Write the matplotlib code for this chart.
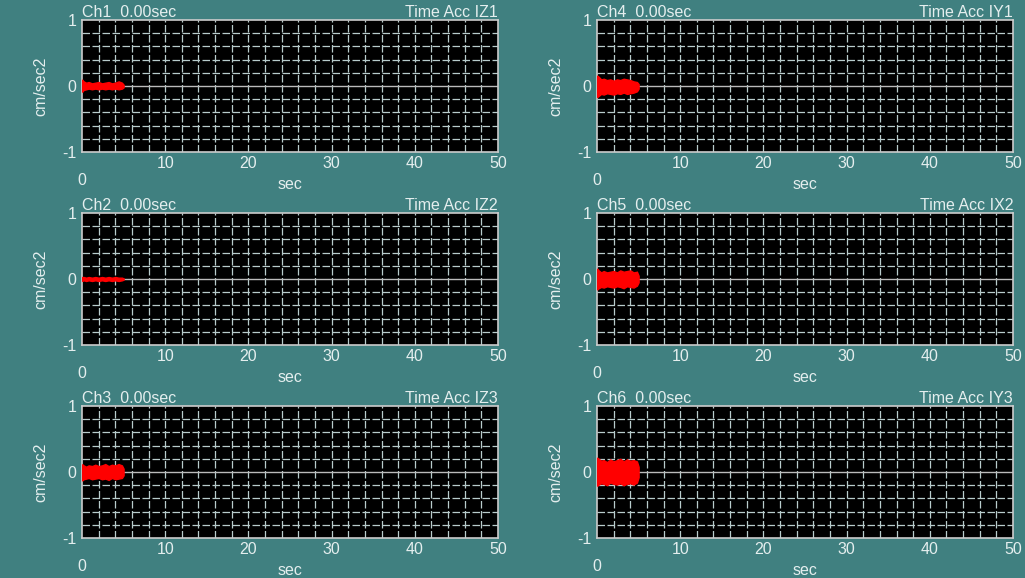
import matplotlib.pyplot as plt
import numpy as np

plt.rcParams['font.family'] = ['Liberation Sans', 'DejaVu Sans']

BG = '#408080'
FG = '#E4EEEE'
GRID = '#B8CCCC'

# channel titles, arranged column-wise (left: Ch1-3, right: Ch4-6)
channels = ['Ch1', 'Ch2', 'Ch3', 'Ch4', 'Ch5', 'Ch6']
names = ['Time Acc IZ1', 'Time Acc IZ2', 'Time Acc IZ3',
         'Time Acc IY1', 'Time Acc IX2', 'Time Acc IY3']
elapsed = '0.00sec'

# signal envelope (sec, cm/sec2)
env_t = [0.0, 0.2, 0.5, 0.8, 1.2, 1.6, 2.0, 2.4, 2.8, 3.2, 3.6, 4.0, 4.4, 4.8, 5.0]
env_hi = {
    'Ch1': [0.10, 0.07, 0.05, 0.06, 0.04, 0.05, 0.06, 0.04, 0.05, 0.06, 0.04, 0.05, 0.07, 0.05, 0.02],
    'Ch2': [0.03, 0.03, 0.02, 0.03, 0.02, 0.03, 0.02, 0.03, 0.02, 0.03, 0.02, 0.03, 0.02, 0.02, 0.01],
    'Ch3': [0.12, 0.10, 0.08, 0.10, 0.09, 0.11, 0.09, 0.10, 0.12, 0.09, 0.11, 0.10, 0.12, 0.10, 0.05],
    'Ch4': [0.16, 0.14, 0.10, 0.11, 0.09, 0.10, 0.08, 0.10, 0.09, 0.11, 0.10, 0.09, 0.07, 0.06, 0.03],
    'Ch5': [0.16, 0.13, 0.10, 0.12, 0.10, 0.11, 0.12, 0.10, 0.13, 0.11, 0.12, 0.13, 0.10, 0.11, 0.05],
    'Ch6': [0.22, 0.20, 0.17, 0.18, 0.15, 0.19, 0.16, 0.18, 0.20, 0.16, 0.19, 0.17, 0.18, 0.16, 0.08],
}
env_lo = {
    'Ch1': [-0.09, -0.06, -0.05, -0.04, -0.05, -0.04, -0.05, -0.04, -0.05, -0.04, -0.05, -0.04, -0.05, -0.04, -0.02],
    'Ch2': [-0.03, -0.02, -0.03, -0.02, -0.03, -0.02, -0.03, -0.02, -0.03, -0.02, -0.03, -0.02, -0.03, -0.02, -0.01],
    'Ch3': [-0.13, -0.11, -0.10, -0.09, -0.11, -0.10, -0.09, -0.11, -0.10, -0.12, -0.09, -0.11, -0.10, -0.09, -0.05],
    'Ch4': [-0.17, -0.15, -0.12, -0.13, -0.11, -0.12, -0.13, -0.11, -0.12, -0.10, -0.12, -0.11, -0.10, -0.08, -0.04],
    'Ch5': [-0.16, -0.14, -0.12, -0.13, -0.11, -0.12, -0.13, -0.11, -0.12, -0.14, -0.11, -0.12, -0.13, -0.10, -0.05],
    'Ch6': [-0.21, -0.19, -0.17, -0.18, -0.20, -0.16, -0.18, -0.19, -0.17, -0.20, -0.18, -0.17, -0.19, -0.16, -0.08],
}

xticks = [10, 20, 30, 40, 50]
yticks = [-1, 0, 1]

W, H = 1025, 578
fig = plt.figure(figsize=(W / 100, H / 100), dpi=100, facecolor=BG)

lefts = [82, 597]
tops = [20, 213, 406]
aw, ah = 416, 132

for i, ch in enumerate(channels):
    col, row = divmod(i, 3)
    x0, y0 = lefts[col], tops[row]
    ax = fig.add_axes([x0 / W, 1 - (y0 + ah) / H, aw / W, ah / H])
    ax.set_facecolor('black')
    ax.set_xlim(0, 50)
    ax.set_ylim(-1, 1)

    # grid: every 2 sec and every 0.2 units
    for gx in np.arange(2, 50, 2):
        ax.axvline(gx, color=GRID, lw=0.9, ls=(0, (6, 2)), zorder=1)
    for gy in np.arange(-0.8, 0.81, 0.2):
        if abs(gy) < 1e-9:
            ax.axhline(0, color='#BBBBBB', lw=1.0, zorder=1)
        else:
            ax.axhline(gy, color=GRID, lw=0.9, ls=(0, (6, 2)), zorder=1)

    ax.fill_between(env_t, env_lo[ch], env_hi[ch], facecolor='red',
                    edgecolor='red', lw=1.0, joinstyle='miter', zorder=3)

    for s in ax.spines.values():
        s.set_color('#CCCCCC')
        s.set_linewidth(1.2)

    ax.set_xticks(xticks)
    ax.set_xticklabels([str(v) for v in xticks])
    ax.set_yticks(yticks)
    ax.set_yticklabels([str(v) for v in yticks])
    ax.tick_params(length=0, colors=FG, labelsize=11.5, pad=3)
    ax.tick_params(axis='y', pad=4)
    ax.text(0, -0.16, '0', transform=ax.get_xaxis_transform(), ha='center',
            va='top', color=FG, fontsize=11.5)
    ax.set_xlabel('sec', color=FG, fontsize=11.5, labelpad=4)
    ax.set_ylabel('cm/sec2', color=FG, fontsize=11.5, labelpad=10)
    ax.set_title(f'{ch}  {elapsed}', loc='left', color=FG, fontsize=11.5, pad=2)
    ax.set_title(names[i], loc='right', color=FG, fontsize=11.5, pad=2)

fig.savefig('out.png', dpi=100, facecolor=BG)
